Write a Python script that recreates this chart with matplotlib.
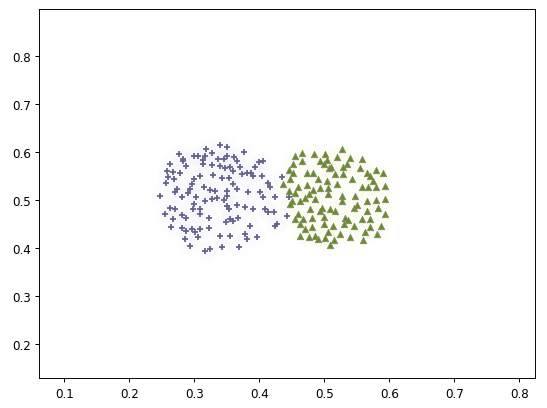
import numpy as np
import matplotlib
matplotlib.use("Agg")
import matplotlib.pyplot as plt

# class 1 (plus markers)
plus_x = [0.340, 0.351, 0.318, 0.327, 0.316, 0.376, 0.276, 0.283, 0.282, 0.299,
          0.305, 0.313, 0.337, 0.345, 0.351, 0.361, 0.366, 0.399, 0.406, 0.263,
          0.287, 0.314, 0.327, 0.340, 0.347, 0.355, 0.359, 0.370, 0.394, 0.388,
          0.258, 0.268, 0.278, 0.260, 0.269, 0.257, 0.299, 0.296, 0.309, 0.329,
          0.343, 0.354, 0.373, 0.381, 0.391, 0.404, 0.414, 0.416, 0.247, 0.273,
          0.281, 0.270, 0.294, 0.324, 0.332, 0.327, 0.335, 0.350, 0.350, 0.365,
          0.383, 0.401, 0.406, 0.424, 0.435, 0.445, 0.263, 0.270, 0.255, 0.268,
          0.299, 0.309, 0.298, 0.317, 0.350, 0.353, 0.365, 0.378, 0.391, 0.409,
          0.414, 0.422, 0.281, 0.288, 0.309, 0.322, 0.349, 0.355, 0.360, 0.368,
          0.386, 0.396, 0.378, 0.381, 0.424, 0.427, 0.264, 0.281, 0.288, 0.296,
          0.301, 0.306, 0.309, 0.322, 0.340, 0.355, 0.286, 0.294, 0.317, 0.324,
          0.342, 0.369, 0.442, 0.290, 0.315, 0.360, 0.345, 0.302]
plus_y = [0.616, 0.612, 0.608, 0.599, 0.593, 0.600, 0.596, 0.587, 0.583, 0.593,
          0.593, 0.584, 0.586, 0.587, 0.593, 0.591, 0.582, 0.579, 0.581, 0.576,
          0.571, 0.576, 0.574, 0.572, 0.567, 0.569, 0.562, 0.569, 0.569, 0.558,
          0.562, 0.560, 0.558, 0.548, 0.544, 0.537, 0.544, 0.534, 0.551, 0.553,
          0.546, 0.546, 0.555, 0.558, 0.551, 0.551, 0.537, 0.527, 0.510, 0.524,
          0.506, 0.517, 0.524, 0.521, 0.520, 0.503, 0.504, 0.520, 0.510, 0.524,
          0.517, 0.517, 0.506, 0.506, 0.548, 0.506, 0.485, 0.482, 0.471, 0.461,
          0.492, 0.482, 0.482, 0.499, 0.489, 0.482, 0.490, 0.487, 0.482, 0.482,
          0.475, 0.476, 0.469, 0.464, 0.471, 0.464, 0.455, 0.461, 0.457, 0.464,
          0.447, 0.423, 0.430, 0.419, 0.447, 0.451, 0.445, 0.442, 0.437, 0.440,
          0.433, 0.423, 0.440, 0.442, 0.426, 0.426, 0.419, 0.405, 0.395, 0.398,
          0.402, 0.402, 0.468, 0.515, 0.527, 0.535, 0.500, 0.506]

# class 2 (triangle markers)
tri_x = [0.455, 0.466, 0.484, 0.501, 0.528, 0.465, 0.493, 0.499, 0.504, 0.511,
         0.508, 0.540, 0.558, 0.445, 0.452, 0.473, 0.483, 0.517, 0.529, 0.529,
         0.555, 0.565, 0.570, 0.580, 0.590, 0.437, 0.445, 0.460, 0.473, 0.483,
         0.493, 0.506, 0.504, 0.519, 0.542, 0.558, 0.568, 0.580, 0.594, 0.450,
         0.463, 0.470, 0.476, 0.486, 0.506, 0.527, 0.528, 0.547, 0.565, 0.580,
         0.594, 0.460, 0.478, 0.493, 0.496, 0.509, 0.517, 0.545, 0.565, 0.583,
         0.594, 0.455, 0.463, 0.468, 0.481, 0.481, 0.499, 0.514, 0.532, 0.537,
         0.545, 0.558, 0.570, 0.570, 0.581, 0.563, 0.463, 0.476, 0.486, 0.491,
         0.501, 0.509, 0.524, 0.540, 0.506, 0.447, 0.447, 0.452, 0.535, 0.520,
         0.490, 0.575, 0.550, 0.530, 0.500, 0.470, 0.587, 0.560, 0.455, 0.515]
tri_y = [0.593, 0.599, 0.596, 0.596, 0.606, 0.583, 0.583, 0.576, 0.585, 0.569,
         0.567, 0.589, 0.587, 0.564, 0.557, 0.558, 0.558, 0.555, 0.555, 0.569,
         0.567, 0.558, 0.551, 0.564, 0.558, 0.534, 0.520, 0.527, 0.532, 0.522,
         0.525, 0.525, 0.541, 0.534, 0.544, 0.527, 0.527, 0.527, 0.530, 0.499,
         0.499, 0.504, 0.513, 0.503, 0.513, 0.510, 0.499, 0.510, 0.499, 0.501,
         0.503, 0.471, 0.482, 0.478, 0.485, 0.482, 0.478, 0.485, 0.478, 0.485,
         0.471, 0.461, 0.451, 0.461, 0.464, 0.444, 0.451, 0.446, 0.464, 0.458,
         0.446, 0.461, 0.461, 0.444, 0.430, 0.433, 0.426, 0.423, 0.426, 0.419,
         0.421, 0.406, 0.430, 0.423, 0.433, 0.492, 0.545, 0.575, 0.575, 0.590,
         0.545, 0.540, 0.490, 0.450, 0.465, 0.440, 0.447, 0.417, 0.515, 0.418]

x_ticks = [0.1, 0.2, 0.3, 0.4, 0.5, 0.6, 0.7, 0.8]
y_ticks = [0.2, 0.3, 0.4, 0.5, 0.6, 0.7, 0.8]

fig = plt.figure(figsize=(6.4, 4.785), dpi=85.47)
ax = fig.add_axes([0.0718, 0.0726, 0.906, 0.902])

# faint halo behind each cluster
ax.scatter(plus_x, plus_y, s=260, marker="o", color="#8080c0", alpha=0.012, linewidths=0)
ax.scatter(tri_x, tri_y, s=260, marker="o", color="#d0e040", alpha=0.02, linewidths=0)

ax.scatter(plus_x, plus_y, s=26, marker="+", color="#63638a", linewidths=1.5)
ax.scatter(tri_x, tri_y, s=30, marker="^", color="#6b8c25", edgecolors="#7f8c6c",
           linewidths=0.6)

ax.set_xlim(0.0615, 0.824)
ax.set_ylim(0.129, 0.898)
ax.set_xticks(x_ticks)
ax.set_yticks(y_ticks)

fig.savefig("out.png", dpi=85.47)
